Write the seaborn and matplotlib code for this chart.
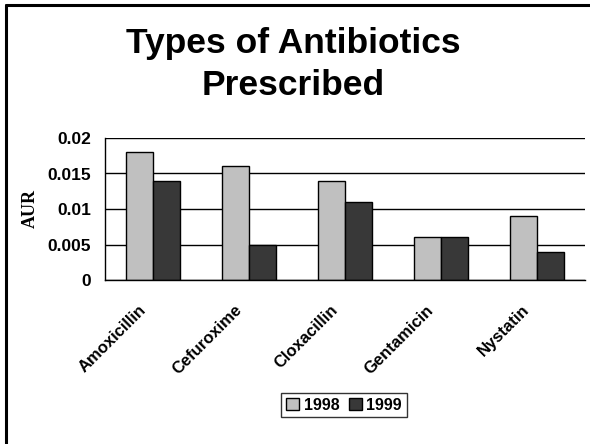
import pandas as pd
import numpy as np
import matplotlib.pyplot as plt
import matplotlib.transforms as mtransforms
import seaborn as sns
from matplotlib.lines import Line2D

# Chart data
drugs = ["Amoxicillin", "Cefuroxime", "Cloxacillin", "Gentamicin", "Nystatin"]
aur_1998 = [0.018, 0.016, 0.014, 0.006, 0.009]
aur_1999 = [0.014, 0.005, 0.011, 0.006, 0.004]
years = ["1998", "1999"]
y_ticks = [0, 0.005, 0.01, 0.015, 0.02]
y_tick_labels = ["0", "0.005", "0.01", "0.015", "0.02"]

sns.set_style("white")
plt.rcParams["font.family"] = ["Liberation Sans", "DejaVu Sans"]
plt.rcParams["text.color"] = "black"
plt.rcParams["axes.labelcolor"] = "black"
plt.rcParams["xtick.color"] = "black"
plt.rcParams["ytick.color"] = "black"

df = pd.DataFrame({
    "drug": drugs * 2,
    "year": [years[0]] * len(drugs) + [years[1]] * len(drugs),
    "aur": aur_1998 + aur_1999,
})

fig = plt.figure(figsize=(5.9, 4.44), dpi=100)
ax = fig.add_axes([105 / 590, 1 - 280 / 444, 480 / 590, 142 / 444])

sns.barplot(data=df, x="drug", y="aur", hue="year", order=drugs, hue_order=years,
            palette=["#c0c0c0", "#383838"], width=0.57, gap=0,
            edgecolor="black", linewidth=1, saturation=1, errorbar=None, ax=ax)

ax.set_xlim(-0.5, len(drugs) - 0.5)
ax.set_ylim(0, 0.02)
ax.set_yticks(y_ticks)
ax.set_yticklabels(y_tick_labels, fontsize=12.5, fontweight="bold")
ax.yaxis.grid(True, color="black", linewidth=1)
ax.set_axisbelow(True)

ax.set_xticks(range(len(drugs)))
ax.set_xticklabels(drugs, rotation=45, ha="right", va="top", rotation_mode="anchor",
                   fontsize=12, fontweight="bold")
ax.set_xticks(np.arange(-0.5, len(drugs), 1), minor=True)
ax.tick_params(axis="x", which="major", length=0, pad=16)
ax.tick_params(axis="x", which="minor", length=5, width=1, color="black", direction="out")
ax.tick_params(axis="y", length=6, width=1, color="black", direction="out", pad=4)

# nudge the slanted labels left so they end just before the category centre
shift = mtransforms.ScaledTranslation(-0.15, 0, fig.dpi_scale_trans)
for lbl in ax.get_xticklabels():
    lbl.set_transform(lbl.get_transform() + shift)

for side in ["top", "right"]:
    ax.spines[side].set_visible(False)
for side in ["left", "bottom"]:
    ax.spines[side].set_color("black")
    ax.spines[side].set_linewidth(1)

ax.set_xlabel("")
ax.set_ylabel("AUR", family=["Liberation Serif", "DejaVu Serif"], fontsize=13,
              fontweight="bold", labelpad=6)

leg = ax.legend(loc="center", bbox_to_anchor=(344 / 590, 1 - 405 / 444),
                bbox_transform=fig.transFigure, ncol=2, frameon=True, fancybox=False,
                edgecolor="black", handlelength=0.8, handleheight=0.8, handletextpad=0.3,
                columnspacing=0.6, borderpad=0.3, prop={"weight": "bold", "size": 11.5})
leg.get_frame().set_linewidth(1)

# Title, two lines
fig.text(0.497, 1 - 53 / 444, "Types of Antibiotics", ha="center", va="baseline",
         fontsize=25.5, fontweight="bold")
fig.text(0.497, 1 - 95 / 444, "Prescribed", ha="center", va="baseline",
         fontsize=25.5, fontweight="bold")

# slide border on top and left
fig.add_artist(Line2D([5.5 / 590, 5.5 / 590], [0, 1 - 5.5 / 444], color="black", linewidth=2.2,
                      transform=fig.transFigure))
fig.add_artist(Line2D([5.5 / 590, 1], [1 - 5.5 / 444, 1 - 5.5 / 444], color="black", linewidth=2.2,
                      transform=fig.transFigure))

fig.savefig("out.png", dpi=100)
